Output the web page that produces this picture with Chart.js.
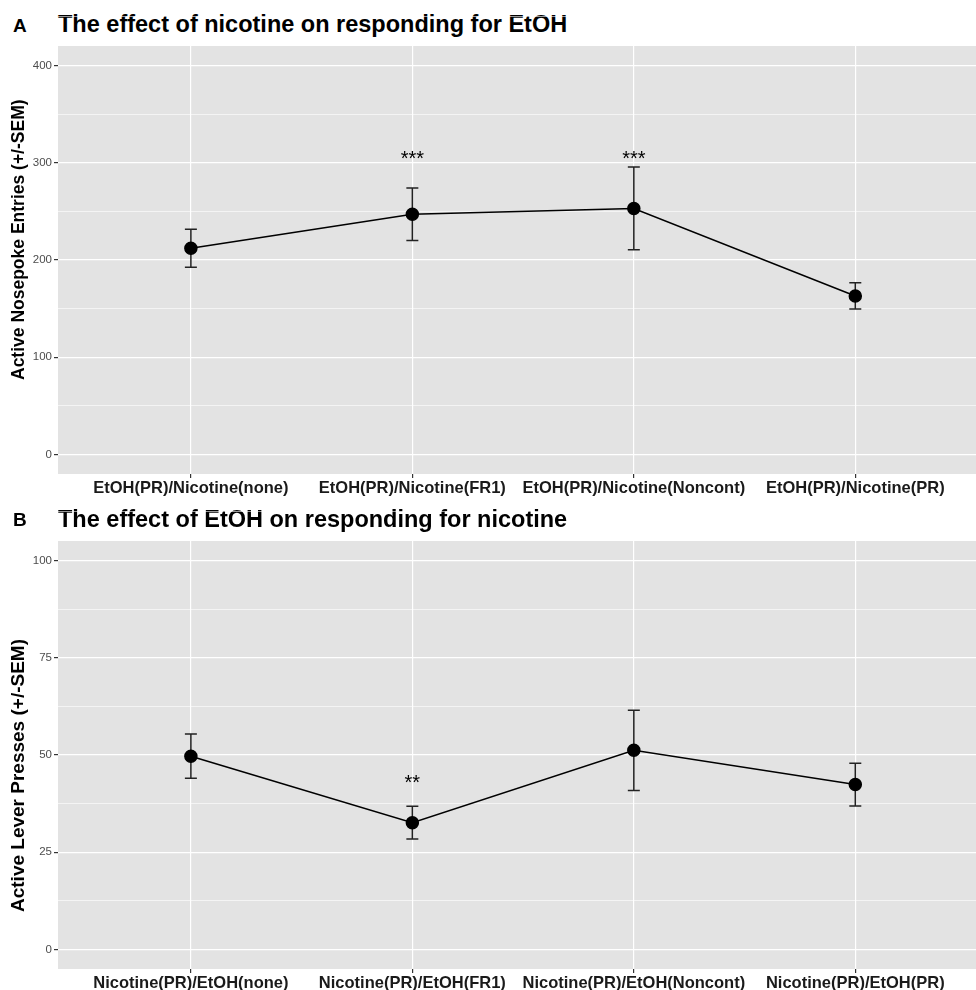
<!DOCTYPE html>
<html lang="en">
<head>
    <meta charset="UTF-8">
    <title>Nicotine / EtOH responding</title>
    <script src="https://cdn.jsdelivr.net/npm/chart.js"></script>
    <style>
        body { margin: 0; background: #fff; font-family: "Liberation Sans", Arial, Helvetica, sans-serif; }
        .panel { position: absolute; left: 0; width: 976px; }
        .panel canvas { position: absolute; left: 0; top: 0; }
        .tag { position: absolute; left: 13px; font-weight: bold; font-size: 19px; line-height: 1; }
        .ttl { position: absolute; left: 58px; font-weight: bold; font-size: 23.5px; line-height: 1; white-space: nowrap; }
    </style>
</head>
<body>
    <div class="panel" style="top:0; height:500px;">
        <div class="tag" style="top:16px;">A</div>
        <div class="ttl" style="top:13px;">The effect of nicotine on responding for EtOH</div>
        <canvas id="chartA" width="976" height="500"></canvas>
    </div>
    <div class="panel" style="top:495px; height:495px;">
        <div class="tag" style="top:15px;">B</div>
        <div class="ttl" style="top:13px;">The effect of EtOH on responding for nicotine</div>
        <canvas id="chartB" width="976" height="495"></canvas>
    </div>

    <script>
        // Panel A: EtOH responding
        const categoriesA = ["EtOH(PR)/Nicotine(none)", "EtOH(PR)/Nicotine(FR1)", "EtOH(PR)/Nicotine(Noncont)", "EtOH(PR)/Nicotine(PR)"];
        const meansA = [212, 247, 253, 163];
        const semA = [19.5, 27, 42.5, 13.5];
        const starsA = ["", "***", "***", ""];
        const yTicksA = [0, 100, 200, 300, 400];

        // Panel B: nicotine responding
        const categoriesB = ["Nicotine(PR)/EtOH(none)", "Nicotine(PR)/EtOH(FR1)", "Nicotine(PR)/EtOH(Noncont)", "Nicotine(PR)/EtOH(PR)"];
        const meansB = [49.7, 32.6, 51.2, 42.4];
        const semB = [5.7, 4.2, 10.3, 5.5];
        const starsB = ["", "**", "", ""];
        const yTicksB = [0, 25, 50, 75, 100];

        Chart.defaults.font.family = '"Liberation Sans", Arial, Helvetica, sans-serif';

        function makePanel(id, cats, means, sem, stars, yTicks, yMin, yMax, yTitle, starLevel, xAxisHeight, yTitleBottom, yTitleSize) {
            const step = yTicks[1] - yTicks[0];
            const allTicks = [];
            yTicks.forEach(v => { allTicks.push(v); allTicks.push(v + step / 2); });
            const isMajor = v => yTicks.includes(v);

            const panelPlugin = {
                id: "panelPlugin",
                beforeDraw(chart) {
                    const a = chart.chartArea;
                    const ctx = chart.ctx;
                    ctx.save();
                    ctx.fillStyle = "#e3e3e3";
                    ctx.fillRect(a.left, a.top, a.right - a.left, a.bottom - a.top);
                    ctx.restore();
                },
                beforeDatasetsDraw(chart) {
                    const ctx = chart.ctx;
                    const xs = chart.scales.x, ys = chart.scales.y;
                    ctx.save();
                    ctx.strokeStyle = "#222";
                    ctx.lineWidth = 1.5;
                    means.forEach((m, i) => {
                        const x = xs.getPixelForValue(i);
                        const yt = ys.getPixelForValue(m + sem[i]);
                        const yb = ys.getPixelForValue(m - sem[i]);
                        ctx.beginPath();
                        ctx.moveTo(x, yt); ctx.lineTo(x, yb);
                        ctx.moveTo(x - 6, yt); ctx.lineTo(x + 6, yt);
                        ctx.moveTo(x - 6, yb); ctx.lineTo(x + 6, yb);
                        ctx.stroke();
                    });
                    ctx.restore();
                },
                afterDatasetsDraw(chart) {
                    const ctx = chart.ctx;
                    const xs = chart.scales.x, ys = chart.scales.y;
                    ctx.save();
                    ctx.fillStyle = "#000";
                    ctx.font = '20px "Liberation Sans", Arial, sans-serif';
                    ctx.textAlign = "center";
                    ctx.textBaseline = "alphabetic";
                    stars.forEach((s, i) => {
                        if (s) ctx.fillText(s, xs.getPixelForValue(i), ys.getPixelForValue(starLevel));
                    });
                    // y axis title, rotated, read bottom to top
                    ctx.translate(19, yTitleBottom);
                    ctx.rotate(-Math.PI / 2);
                    ctx.font = 'bold ' + yTitleSize + 'px "Liberation Sans", Arial, sans-serif';
                    ctx.textAlign = "left";
                    ctx.textBaseline = "middle";
                    ctx.fillText(yTitle, 0, 0);
                    ctx.restore();
                }
            };

            new Chart(document.getElementById(id).getContext("2d"), {
                type: "line",
                data: {
                    datasets: [{
                        data: means.map((m, i) => ({ x: i, y: m })),
                        borderColor: "#000",
                        borderWidth: 1.5,
                        backgroundColor: "#000",
                        pointRadius: 6,
                        pointHoverRadius: 6,
                        tension: 0
                    }]
                },
                options: {
                    responsive: false,
                    animation: false,
                    layout: { autoPadding: false, padding: { top: 46, left: 0, right: 0, bottom: 0 } },
                    plugins: { legend: { display: false }, tooltip: { enabled: false } },
                    scales: {
                        x: {
                            type: "linear",
                            min: -0.6,
                            max: 3.545,
                            afterBuildTicks: s => { s.ticks = cats.map((c, i) => ({ value: i })); },
                            afterFit: s => {
                                s.height = xAxisHeight;
                                s.paddingLeft = 0;
                                s.paddingRight = 0;
                            },
                            ticks: {
                                callback: v => cats[v],
                                color: "#1a1a1a",
                                font: { size: 16.5, weight: "bold" },
                                padding: 1,
                                maxRotation: 0,
                                autoSkip: false
                            },
                            grid: { color: "#fff", lineWidth: 1.2, tickColor: "#333", tickLength: 4 },
                            border: { display: false }
                        },
                        y: {
                            type: "linear",
                            min: yMin,
                            max: yMax,
                            afterBuildTicks: s => { s.ticks = allTicks.map(v => ({ value: v })); },
                            afterFit: s => {
                                s.width = 58;
                                s.paddingTop = 0;
                                s.paddingBottom = 0;
                            },
                            ticks: {
                                callback: v => isMajor(v) ? v : "",
                                color: "#4d4d4d",
                                font: { size: 11.5 },
                                padding: 2,
                                autoSkip: false
                            },
                            grid: {
                                color: "#fff",
                                lineWidth: c => isMajor(c.tick.value) ? 1.2 : 0.6,
                                tickColor: c => isMajor(c.tick.value) ? "#333" : "rgba(0,0,0,0)",
                                tickLength: 4
                            },
                            border: { display: false },
                            title: { display: false }
                        }
                    }
                },
                plugins: [panelPlugin]
            });
        }

        makePanel("chartA", categoriesA, meansA, semA, starsA, yTicksA, -20, 420,
            "Active Nosepoke Entries (+/-SEM)", 298, 26, 380, 17.5);
        makePanel("chartB", categoriesB, meansB, semB, starsB, yTicksB, -5, 105,
            "Active Lever Presses (+/-SEM)", 41.3, 21, 912 - 495, 19);
    </script>
</body>
</html>
